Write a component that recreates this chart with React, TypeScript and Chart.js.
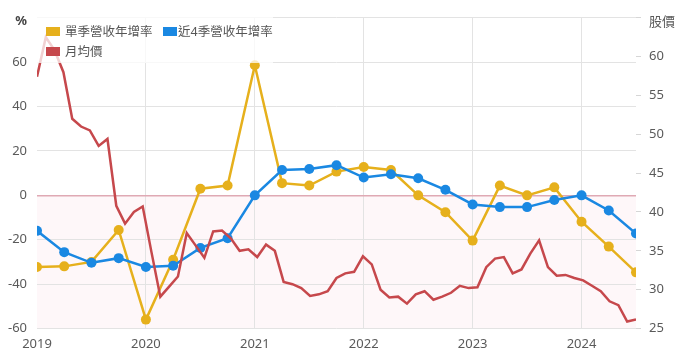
import React, { useEffect, useRef } from 'react';
import { Chart, registerables } from 'chart.js';

Chart.register(...registerables);

// ---- data ----
const yearLabels = ['2019', '2020', '2021', '2022', '2023', '2024'];
const quarterLabels = [
  '2019Q1', '2019Q2', '2019Q3', '2019Q4',
  '2020Q1', '2020Q2', '2020Q3', '2020Q4',
  '2021Q1', '2021Q2', '2021Q3', '2021Q4',
  '2022Q1', '2022Q2', '2022Q3', '2022Q4',
  '2023Q1', '2023Q2', '2023Q3', '2023Q4',
  '2024Q1', '2024Q2', '2024Q3',
];
const singleQuarterYoY = [
  -32.3, -32.0, -30.0, -15.6,
  -56.0, -29.0, 3.0, 4.4,
  58.6, 5.5, 4.4, 10.7,
  12.8, 11.4, 0.0, -7.6,
  -20.4, 4.4, 0.0, 3.6,
  -11.9, -23.1, -34.7,
];
const trailing4QYoY = [
  -16.0, -25.6, -30.4, -28.3,
  -32.3, -31.7, -23.7, -19.3,
  0.0, 11.4, 11.9, 13.6,
  8.0, 9.5, 7.7, 2.5,
  -4.1, -5.3, -5.3, -2.1,
  0.0, -6.8, -17.2,
];
const monthlyPrice = [
  57.4, 62.5, 60.8, 58.0, 52.0, 51.0, 50.5, 48.5, 49.4, 40.8, 38.5, 40.0,
  40.7, 34.8, 29.1, 30.4, 31.7, 37.3, 35.7, 34.1, 37.5, 37.6, 36.6, 35.0,
  35.2, 34.2, 35.8, 35.0, 31.0, 30.7, 30.2, 29.2, 29.4, 29.8, 31.5, 32.1,
  32.3, 34.3, 33.25, 30.0, 29.0, 29.1, 28.2, 29.4, 29.8, 28.7, 29.1, 29.6,
  30.5, 30.2, 30.3, 32.9, 34.0, 34.2, 32.1, 32.6, 34.65, 36.35, 32.9, 31.8,
  31.9, 31.5, 31.2, 30.5, 29.8, 28.5, 28.0, 25.9, 26.15,
];
const leftTicks = [-60, -40, -20, 0, 20, 40, 60, 80];
const rightTicks = [25, 30, 35, 40, 45, 50, 55, 60, 65];
const legendItems = [
  { label: '單季營收年增率', color: '#e6b01c' },
  { label: '近4季營收年增率', color: '#1a88e2' },
  { label: '月均價', color: '#c6484c' },
];
const leftAxisTitle = '%';
const rightAxisTitle = '股價';

const FONT = '"Noto Sans", "Noto Sans CJK TC", sans-serif';
const TICK_COLOR = '#5a5a5a';
const GRID_COLOR = '#e3e3e3';
const ZERO_COLOR = '#dfa9b4';

const belowZeroPlugin = {
  id: 'belowZero',
  beforeDraw(chart: any) {
    const { ctx, chartArea } = chart;
    const y0 = chart.scales.y.getPixelForValue(0);
    ctx.save();
    ctx.fillStyle = '#fef7f9';
    ctx.fillRect(chartArea.left, y0, chartArea.right - chartArea.left, chartArea.bottom - y0);
    ctx.restore();
  },
};

export default function App() {
  const canvasRef = useRef<HTMLCanvasElement | null>(null);

  useEffect(() => {
    const canvas = canvasRef.current;
    if (!canvas) return;
    const tickFont = { family: FONT, size: 13 };
    const chart = new Chart(canvas, {
      type: 'line',
      data: {
        datasets: [
          {
            label: legendItems[2].label,
            data: monthlyPrice.map((v, i) => ({ x: i, y: v })),
            xAxisID: 'x2',
            yAxisID: 'y1',
            borderColor: legendItems[2].color,
            backgroundColor: legendItems[2].color,
            borderWidth: 2.5,
            pointRadius: 0,
            tension: 0,
          },
          {
            label: legendItems[1].label,
            data: trailing4QYoY.map((v, i) => ({ x: i * 3, y: v })),
            xAxisID: 'x',
            yAxisID: 'y',
            borderColor: legendItems[1].color,
            backgroundColor: legendItems[1].color,
            borderWidth: 2.5,
            pointRadius: 5,
            pointBorderWidth: 0,
            tension: 0,
          },
          {
            label: legendItems[0].label,
            data: singleQuarterYoY.map((v, i) => ({ x: i * 3, y: v })),
            xAxisID: 'x',
            yAxisID: 'y',
            borderColor: legendItems[0].color,
            backgroundColor: legendItems[0].color,
            borderWidth: 2.5,
            pointRadius: 5,
            pointBorderWidth: 0,
            tension: 0,
          },
        ],
      },
      options: {
        animation: false,
        responsive: false,
        devicePixelRatio: 1,
        layout: { padding: { top: 15, left: 0, right: 0, bottom: 0 } },
        plugins: {
          legend: { display: false },
          tooltip: { enabled: false },
        },
        scales: {
          x: {
            type: 'linear',
            min: 0,
            max: (quarterLabels.length - 1) * 3,
            position: 'bottom',
            afterBuildTicks: (s: any) => {
              s.ticks = yearLabels.map((_, i) => ({ value: i * 12 }));
            },
            ticks: {
              callback: (v: any) => yearLabels[Math.round(v / 12)],
              padding: 8,
              font: tickFont,
              color: TICK_COLOR,
              maxRotation: 0,
              autoSkip: false,
            },
            grid: {
              color: (ctx: any) => (ctx.tick && ctx.tick.value === 0 ? 'rgba(0,0,0,0)' : GRID_COLOR),
              drawTicks: false,
            },
            border: { display: false },
            afterFit: (s: any) => {
              s.height = 28.5;
            },
          },
          x2: {
            type: 'linear',
            min: 0,
            max: monthlyPrice.length - 1,
            display: false,
          },
          y: {
            type: 'linear',
            position: 'left',
            min: leftTicks[0],
            max: leftTicks[leftTicks.length - 1],
            afterBuildTicks: (s: any) => {
              s.ticks = leftTicks.map((v) => ({ value: v }));
            },
            ticks: {
              callback: (v: any) => (v === leftTicks[leftTicks.length - 1] ? '' : String(v)),
              padding: 10,
              font: tickFont,
              color: TICK_COLOR,
            },
            grid: {
              color: (ctx: any) => (ctx.tick && ctx.tick.value === 0 ? ZERO_COLOR : GRID_COLOR),
              lineWidth: (ctx: any) => (ctx.tick && ctx.tick.value === 0 ? 1.5 : 1),
              drawTicks: false,
            },
            border: { display: false },
            afterFit: (s: any) => {
              s.width = 37;
            },
          },
          y1: {
            type: 'linear',
            position: 'right',
            min: rightTicks[0],
            max: rightTicks[rightTicks.length - 1],
            afterBuildTicks: (s: any) => {
              s.ticks = rightTicks.map((v) => ({ value: v }));
            },
            ticks: {
              callback: (v: any) => (v === rightTicks[rightTicks.length - 1] ? '' : String(v)),
              padding: 8,
              font: tickFont,
              color: TICK_COLOR,
            },
            grid: {
              drawOnChartArea: false,
              drawTicks: true,
              tickLength: 5,
              color: '#d6d6d6',
            },
            border: { display: false },
            afterFit: (s: any) => {
              s.width = 55;
            },
          },
        },
      } as any,
      plugins: [belowZeroPlugin],
    });
    return () => chart.destroy();
  }, []);

  const legendText: React.CSSProperties = {
    position: 'absolute',
    fontFamily: FONT,
    fontSize: 12.5,
    color: '#555',
    lineHeight: '14px',
    whiteSpace: 'nowrap',
  };
  const box = (color: string, left: number, top: number): React.CSSProperties => ({
    position: 'absolute',
    left,
    top,
    width: 14,
    height: 9,
    background: color,
  });

  return (
    <div style={{ position: 'fixed', left: 0, top: 0, width: 691, height: 357, background: '#fff' }}>
      <canvas ref={canvasRef} width={691} height={357} style={{ display: 'block', width: 691, height: 357 }} />
      <div
        style={{
          position: 'absolute',
          left: 37,
          top: 17,
          width: 236,
          height: 46,
          background: 'rgba(255,255,255,0.75)',
        }}
      />
      <div style={box(legendItems[0].color, 46, 27)} />
      <div style={{ ...legendText, left: 65, top: 25 }}>{legendItems[0].label}</div>
      <div style={box(legendItems[1].color, 163, 27)} />
      <div style={{ ...legendText, left: 178, top: 25 }}>{legendItems[1].label}</div>
      <div style={box(legendItems[2].color, 46, 47)} />
      <div style={{ ...legendText, left: 65, top: 45 }}>{legendItems[2].label}</div>
      <div
        style={{
          position: 'absolute',
          right: 691 - 27,
          top: 12,
          fontFamily: FONT,
          fontSize: 13,
          fontWeight: 'bold',
          color: '#444',
          lineHeight: '16px',
        }}
      >
        {leftAxisTitle}
      </div>
      <div
        style={{
          position: 'absolute',
          left: 649,
          top: 13,
          fontFamily: FONT,
          fontSize: 13,
          color: TICK_COLOR,
          lineHeight: '16px',
        }}
      >
        {rightAxisTitle}
      </div>
    </div>
  );
}
